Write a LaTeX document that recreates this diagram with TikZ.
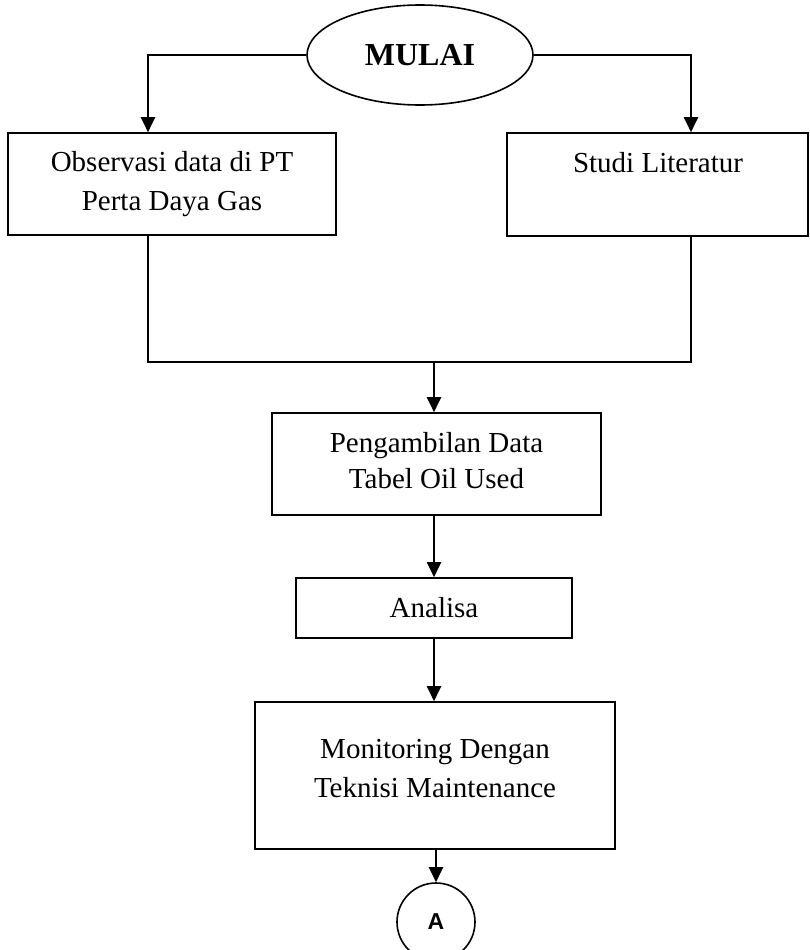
\documentclass[tikz,border=0pt]{standalone}
\usepackage{fontspec}
\setmainfont{Liberation Serif}
\newfontfamily\arialfont{Liberation Sans}
\usetikzlibrary{arrows.meta,shapes.geometric}
\tikzset{
  box/.style={draw, line width=1.6pt, rectangle, inner sep=0pt, align=center,
    font=\fontsize{29}{39}\selectfont},
  txt/.style={inner sep=0pt, align=center, font=\fontsize{29}{39}\selectfont},
  link/.style={line width=1.6pt},
  flow/.style={line width=2pt, -{Triangle[length=15pt,width=14pt]}},
}
\begin{document}
\begin{tikzpicture}[x=1pt,y=-1pt]
\clip (0,0) rectangle (810,950);
\fill[white] (0,0) rectangle (810,950);

\node[draw, ellipse, line width=1.6pt, minimum width=226pt, minimum height=100pt, inner sep=0pt,
  font=\fontsize{32}{38}\selectfont\bfseries] (mulai) at (420,55) {MULAI};

\node[box, minimum width=328pt, minimum height=102pt] (obs) at (172,184)
  {Observasi data di PT\\Perta Daya Gas};
\node[box, minimum width=301pt, minimum height=103pt] (studi) at (657.5,184.5) {};
\node[txt] (studitext) at (658,163) {Studi Literatur};

\coordinate (cL) at (148,0);
\coordinate (cR) at (691,0);
\coordinate (join) at (434,362);

\draw[link] (mulai.west) -| ([yshift=-1pt]cL |- mulai.west);
\draw[flow] (mulai.west -| cL) -- (cL |- obs.north);
\draw[link] (mulai.east) -| ([yshift=-1pt]cR |- mulai.east);
\draw[flow] (mulai.east -| cR) -- (cR |- studi.north);

\draw[link] (cL |- obs.south) -- (cL |- join) -- (cR |- join) -- (cR |- studi.south);

\node[box, minimum width=329pt, minimum height=102pt] (peng) at (436.5,464) {};
\node[txt, font=\fontsize{29}{36}\selectfont] (pengtext) at (436.5,461)
  {Pengambilan Data\\Tabel Oil Used};
\draw[flow] (join) -- (join |- peng.north);

\node[box, minimum width=276pt, minimum height=60pt] (analisa) at (434,608) {Analisa};
\draw[flow] (peng.south -| join) -- (join |- analisa.north);

\node[box, minimum width=360pt, minimum height=147pt] (moni) at (435,775.5) {};
\node[txt] (monitext) at (435,769) {Monitoring Dengan\\Teknisi Maintenance};
\draw[flow] (analisa.south -| join) -- (join |- moni.north);

\node[draw, circle, line width=1.6pt, minimum size=78pt, inner sep=0pt,
  font=\arialfont\bfseries\fontsize{23}{27}\selectfont] (conA) at (436,922) {A};
\draw[flow] (moni.south -| conA) -- (conA.north);
\end{tikzpicture}
\end{document}
